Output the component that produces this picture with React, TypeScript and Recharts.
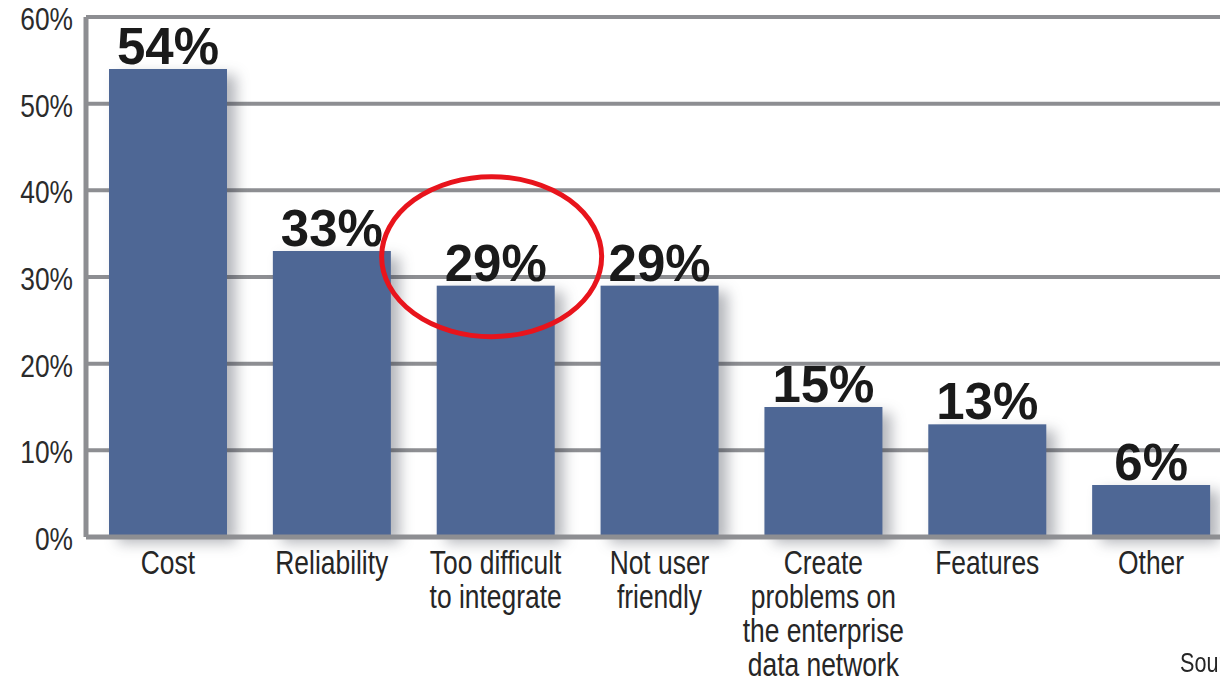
import { Bar, BarChart, CartesianGrid, LabelList, ReferenceDot, XAxis, YAxis } from "recharts";

const categories = [
  "Cost",
  "Reliability",
  "Too difficult\nto integrate",
  "Not user\nfriendly",
  "Create\nproblems on\nthe enterprise\ndata network",
  "Features",
  "Other",
];
const shares = [54, 33, 29, 29, 15, 13, 6];
const yTicks = [0, 10, 20, 30, 40, 50, 60];
const highlighted = categories[2];

const data = categories.map((name, i) => ({ name, value: shares[i] }));

// no narrow face installed, so squeeze the regular one
const FONT = "'Liberation Sans', Arial, sans-serif";
const SQUEEZE = 0.8;
const GRID = "#8d8e92";

const pct = (n: unknown) => `${n}%`;

function CategoryTick({ x, y, payload }: any) {
  const lines = String(payload.value).split("\n");
  return (
    <g transform={`translate(${x},${y}) scale(${SQUEEZE},1)`}>
      <text x={0} y={0} textAnchor="middle" fill="#262626" fontFamily={FONT} fontSize={33}>
        {lines.map((l, i) => (
          <tspan key={i} x={0} dy={i === 0 ? 29 : 34}>
            {l}
          </tspan>
        ))}
      </text>
    </g>
  );
}

function PercentTick({ x, y, payload }: any) {
  return (
    <g transform={`translate(${x},${y}) scale(${SQUEEZE + 0.05},1)`}>
      <text x={0} y={0} dy={13} textAnchor="end" fill="#2b2b2b" fontFamily={FONT} fontSize={31}>
        {pct(payload.value)}
      </text>
    </g>
  );
}

function ShadowBar({ x, y, width, height, fill }: any) {
  return (
    <rect
      x={x}
      y={y}
      width={width}
      height={height}
      fill={fill}
      style={{ filter: "drop-shadow(9px 6px 7px rgba(40,45,60,0.35))" }}
    />
  );
}

function Circled({ cx, cy }: any) {
  return <ellipse cx={cx - 4} cy={cy - 29} rx={110} ry={80} fill="none" stroke="#e8141c" strokeWidth={5} />;
}

export default function App() {
  return (
    <div style={{ position: "absolute", left: 0, top: 0, width: 1220, height: 680, overflow: "hidden", background: "#fff" }}>
      <BarChart width={1240} height={680} data={data} margin={{ top: 17, right: 7, left: 0, bottom: 0 }}>
        <CartesianGrid vertical={false} stroke={GRID} strokeWidth={4} />
        <XAxis
          dataKey="name"
          interval={0}
          height={143}
          tickLine={false}
          axisLine={{ stroke: GRID, strokeWidth: 5 }}
          tick={<CategoryTick />}
        />
        <YAxis
          domain={[0, 60]}
          ticks={yTicks}
          width={86}
          tickLine={false}
          tickSize={0}
          tickMargin={13}
          axisLine={{ stroke: GRID, strokeWidth: 5 }}
          tick={<PercentTick />}
        />
        <Bar dataKey="value" fill="#4e6795" barSize={118} shape={<ShadowBar />} isAnimationActive={false}>
          <LabelList
            dataKey="value"
            position="top"
            offset={5}
            formatter={pct}
            fill="#1a1a1a"
            fontSize={51}
            fontWeight="bold"
            fontFamily={FONT}
          />
        </Bar>
        <ReferenceDot x={highlighted} y={shares[2]} ifOverflow="visible" shape={<Circled />} />
      </BarChart>
      <div
        style={{
          position: "absolute",
          left: 1180,
          top: 648,
          fontFamily: FONT,
          fontSize: 27,
          color: "#262626",
          whiteSpace: "nowrap",
          transform: `scaleX(${SQUEEZE})`,
          transformOrigin: "left",
        }}
      >
        Source
      </div>
    </div>
  );
}
